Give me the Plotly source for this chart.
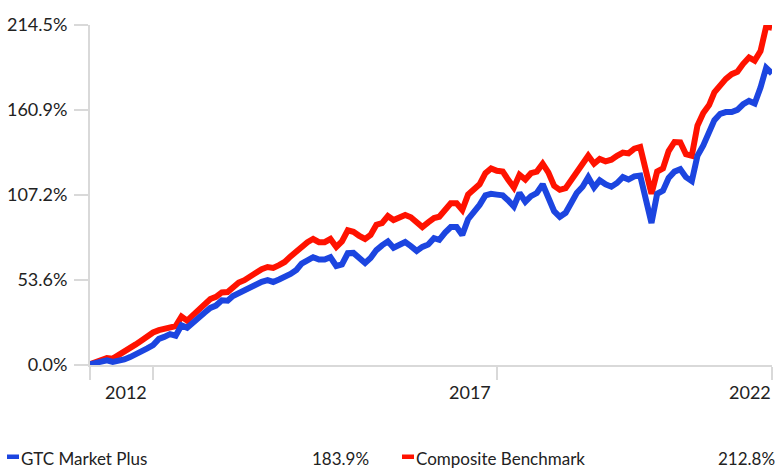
import pandas as pd
import plotly.graph_objects as go

# ---------------- data ----------------
dates = pd.date_range("2012-01-31", periods=120, freq="ME")

gtc_market_plus = [
    0.5, 1.5, 2.5, 3, 2, 2.5, 3.5, 5, 6.5, 8.5,
    10.5, 12.6, 16.5, 17.7, 19.5, 18.5, 25, 23.5, 27, 30.5,
    33, 36, 37.5, 40.8, 40.6, 43.5, 45.5, 47, 48.5, 51,
    52.5, 53.6, 52.4, 54, 55.5, 57.5, 60, 64, 66, 68,
    66.5, 66.5, 68, 62.5, 63.5, 70.5, 70.7, 68, 64.4, 67.5,
    72.5, 75.5, 78, 74, 75.5, 77.6, 75, 72, 74.5, 76,
    80, 79, 83.5, 87, 87, 82, 92, 96, 101, 107,
    108, 107.5, 107, 104, 100, 108.5, 103, 106.5, 108.5, 114,
    104.5, 97, 93.5, 96, 102.5, 108.5, 112.5, 118.5, 112, 116.5,
    114, 112.5, 114.8, 118.5, 117, 119, 119.5, 104, 89.6, 108,
    110, 118, 122, 123.5, 118.5, 116, 132, 138.5, 147, 154.5,
    158.5, 159.6, 159.6, 161, 164.5, 166.6, 165, 175, 187.5, 183.9,
]

composite_benchmark = [
    0.5, 2, 3.5, 4.4, 4, 6, 9, 11, 13, 15.5,
    18.5, 20.5, 22, 22.5, 24, 24.5, 30.5, 28, 31.5, 35,
    38.5, 41.6, 43, 45.8, 46, 49, 52, 53.5, 56, 59,
    60.5, 61.8, 61.2, 63, 65, 68.5, 72, 75, 77.5, 79.5,
    77.5, 77.5, 79.5, 74.5, 78, 85, 84, 81.5, 79.5, 82,
    88.5, 89.5, 94, 91.5, 93, 94.6, 93.2, 90, 87, 90,
    92.7, 93.5, 97.5, 102, 102, 97.8, 107.5, 110.5, 114, 121,
    124, 122.5, 122, 117, 112, 120, 117, 121, 122, 127,
    121.5, 113, 110.5, 111.5, 117, 121.8, 126, 132, 127, 130,
    128.5, 129.5, 132, 134, 133.5, 136.5, 137.5, 122, 108, 122,
    124, 135, 140.7, 140.5, 133, 132, 151, 159, 164, 172,
    176.5, 180.5, 183.5, 185, 190, 194, 192, 198, 213.5, 212.8,
]

series_names = ["GTC Market Plus", "Composite Benchmark"]
final_labels = ["183.9%", "212.8%"]

y_tick_values = [0, 53.625, 107.25, 160.875, 214.5]
y_tick_labels = ["0.0%", "53.6%", "107.2%", "160.9%", "214.5%"]

x_tick_index = [0, 11, 71, 119]
x_label_index = [11, 71, 119]
x_labels = ["2012", "2017", "2022"]

# ---------------- styling ----------------
BLUE = "#1c45e0"
RED = "#ff1200"
AXIS = "#d9d9d9"
TEXT = "#222222"
FONT = "Lato"

W, H = 777, 468
ML, MR, MT, MB = 90, 5, 25, 103
PW = W - ML - MR
PH = H - MT - MB


def px_x(p):
    return (p - ML) / PW


def px_y(p):
    return (H - MB - p) / PH


fig = go.Figure()
fig.add_trace(go.Scatter(x=dates, y=composite_benchmark, mode="lines",
                         line=dict(color=RED, width=6), name=series_names[1],
                         hoverinfo="skip"))
fig.add_trace(go.Scatter(x=dates, y=gtc_market_plus, mode="lines",
                         line=dict(color=BLUE, width=6), name=series_names[0],
                         hoverinfo="skip"))

fig.update_layout(
    width=W, height=H,
    margin=dict(l=ML, r=MR, t=MT, b=MB, pad=0),
    paper_bgcolor="white", plot_bgcolor="white",
    showlegend=False,
    font=dict(family=FONT, size=18, color=TEXT),
)

fig.update_yaxes(
    range=[0, 214.5],
    tickvals=y_tick_values, ticktext=y_tick_labels,
    showgrid=False, zeroline=False,
    showline=True, linecolor=AXIS, linewidth=2,
    ticks="outside", ticklen=14, tickwidth=2, tickcolor=AXIS,
    tickfont=dict(family=FONT, size=18, color=TEXT),
    ticklabelstandoff=3,
)

fig.update_xaxes(
    type="date",
    range=[dates[0], dates[-1]],
    tickvals=[dates[i] for i in x_tick_index],
    ticktext=["" for _ in x_tick_index],
    showgrid=False, zeroline=False,
    showline=True, linecolor=AXIS, linewidth=2,
    ticks="outside", ticklen=13, tickwidth=2, tickcolor=AXIS,
)

# x-axis labels, right aligned to their ticks
for k, (i, lab) in enumerate(zip(x_label_index, x_labels)):
    fig.add_annotation(
        x=dates[i], xref="x", y=px_y(379), yref="paper",
        text=lab, showarrow=False, xanchor="right", yanchor="top",
        xshift=-4 if k < len(x_labels) - 1 else 1,
        font=dict(family=FONT, size=18, color=TEXT),
    )

# custom legend
legend_items = [
    (BLUE, 7, 19, 20, 370, series_names[0], final_labels[0]),
    (RED, 402, 414, 415, 776, series_names[1], final_labels[1]),
]
for color, r0, r1, tx, vx, name, val in legend_items:
    fig.add_shape(type="rect", xref="paper", yref="paper",
                  x0=px_x(r0), x1=px_x(r1), y0=px_y(459), y1=px_y(454.5),
                  fillcolor=color, line=dict(width=0))
    fig.add_annotation(x=px_x(tx), y=px_y(459), xref="paper", yref="paper",
                       text=name, showarrow=False, xanchor="left", yanchor="middle",
                       borderpad=0, font=dict(family=FONT, size=17, color=TEXT))
    fig.add_annotation(x=px_x(vx), y=px_y(459), xref="paper", yref="paper",
                       text=val, showarrow=False, xanchor="right", yanchor="middle",
                       borderpad=0, font=dict(family=FONT, size=17, color=TEXT))

fig.write_html(
    "out.html",
    config={"displayModeBar": False},
    post_script="document.body.style.margin='0';document.body.style.overflow='hidden';",
)
